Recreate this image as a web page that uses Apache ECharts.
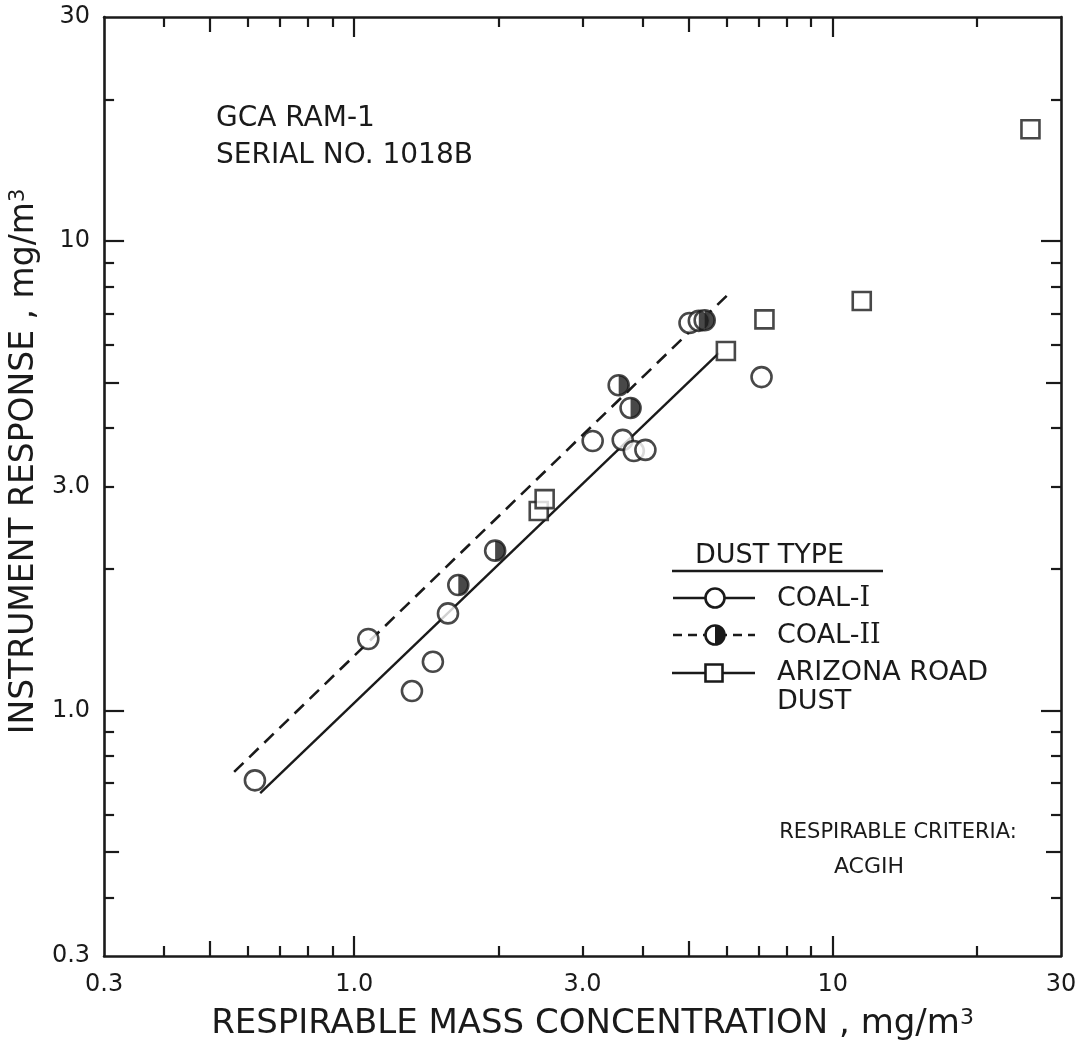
<!DOCTYPE html>
<html lang="en">
<head>
<meta charset="UTF-8">
<title>GCA RAM-1 instrument response</title>
<script src="https://cdn.jsdelivr.net/npm/echarts@6.0.0/dist/echarts.min.js"></script>
<style>
  html, body { margin: 0; padding: 0; background: #ffffff; }
  #chart { width: 1083px; height: 1048px; }
</style>
</head>
<body>
<div id="chart"></div>
<script>
  // values, mg/m3
  const coal1X = [0.62, 1.07, 1.32, 1.46, 1.57, 3.15, 3.64, 3.84, 4.06, 5.02, 7.1];
  const coal1Y = [0.71, 1.42, 1.10, 1.27, 1.61, 3.75, 3.77, 3.57, 3.59, 6.69, 5.13];
  const coal2X = [1.65, 1.97, 3.57, 3.78, 5.25, 5.40];
  const coal2Y = [1.85, 2.19, 4.93, 4.41, 6.76, 6.78];
  const dustX = [2.43, 2.50, 5.98, 7.2, 11.5, 25.9];
  const dustY = [2.66, 2.82, 5.83, 6.81, 7.45, 17.3];
  // fitted lines (end points)
  const coal1FitX = [0.636, 5.78];
  const coal1FitY = [0.667, 5.77];
  const coal2FitX = [0.561, 6.09];
  const coal2FitY = [0.740, 7.75];

  const tickLabelValues = [0.3, 1, 3, 10, 30];
  const tickLabelTexts = ['0.3', '1.0', '3.0', '10', '30'];
  const minorTicks = [0.4, 0.6, 0.7, 0.8, 0.9, 2, 3, 4, 6, 7, 8, 9, 20];
  const midTicks = [0.5, 5];
  const majorTicks = [1, 10];

  const ink = '#1a1a1a';
  const font = 'DejaVu Sans';

  function pairs(xs, ys) {
    return xs.map((x, i) => [x, ys[i]]);
  }

  function tickText(v) {
    const i = tickLabelValues.findIndex(t => Math.abs(t - v) / t < 1e-6);
    return i >= 0 ? tickLabelTexts[i] : '';
  }

  function logAxis(pos, ticks, len, extra) {
    return Object.assign({
      type: 'log', logBase: 10, min: 0.3, max: 30, position: pos,
      axisLine: { show: false },
      axisTick: { show: true, inside: true, length: len, customValues: ticks, lineStyle: { color: ink, width: 2.2 } },
      axisLabel: { show: false },
      splitLine: { show: false }
    }, extra || {});
  }

  const frameLine = { show: true, onZero: false, lineStyle: { color: ink, width: 2.6 } };
  const tickLabel = {
    show: true, customValues: tickLabelValues, formatter: tickText,
    color: ink, fontFamily: font, fontSize: 24
  };
  const nameRich = {
    t: { fontFamily: font, fontSize: 34, color: ink },
    s: { fontFamily: font, fontSize: 22, color: ink, verticalAlign: 'top' }
  };
  const yNameRich = {
    t: { fontFamily: font, fontSize: 33, color: ink },
    s: { fontFamily: font, fontSize: 21, color: ink, verticalAlign: 'top' }
  };

  const xAxes = [
    logAxis('bottom', minorTicks, 10, {
      axisLine: frameLine,
      axisLabel: Object.assign({ margin: 17 }, tickLabel),
      name: '{t|RESPIRABLE MASS CONCENTRATION , mg/m}{s|3}',
      nameLocation: 'middle', nameGap: 51,
      nameTextStyle: { rich: nameRich, padding: [0, 0, 0, 20] }
    }),
    logAxis('bottom', midTicks, 15),
    logAxis('bottom', majorTicks, 20),
    logAxis('top', minorTicks, 10, { axisLine: frameLine }),
    logAxis('top', midTicks, 15),
    logAxis('top', majorTicks, 20)
  ];
  const yAxes = [
    logAxis('left', minorTicks, 10, {
      axisLine: frameLine,
      axisLabel: Object.assign({ margin: 14 }, tickLabel),
      name: '{t|INSTRUMENT RESPONSE , mg/m}{s|3}',
      nameLocation: 'middle', nameGap: 56,
      nameTextStyle: { rich: yNameRich, padding: [0, 0, 0, 50] }
    }),
    logAxis('left', midTicks, 15),
    logAxis('left', majorTicks, 20),
    logAxis('right', minorTicks, 10, { axisLine: frameLine }),
    logAxis('right', midTicks, 15),
    logAxis('right', majorTicks, 20)
  ];

  const openMarker = { color: '#ffffff', borderColor: ink, borderWidth: 2.6 };
  const textBase = { fontFamily: font, fill: ink, verticalAlign: 'middle' };
  const roman = { r: { fontFamily: 'DejaVu Serif', fontSize: 27, fill: ink } };

  const chart = echarts.init(document.getElementById('chart'));
  chart.setOption({
    backgroundColor: '#ffffff',
    animation: false,
    grid: { left: 104, right: 22, top: 17, bottom: 92 },
    xAxis: xAxes,
    yAxis: yAxes,
    series: [
      {
        name: 'COAL-I fit', type: 'line', data: pairs(coal1FitX, coal1FitY),
        showSymbol: false, z: 1, lineStyle: { color: ink, width: 2.4 }
      },
      {
        name: 'COAL-II fit', type: 'line', data: pairs(coal2FitX, coal2FitY),
        showSymbol: false, z: 1, lineStyle: { color: ink, width: 2.6, type: [13, 8] }
      },
      {
        name: 'COAL-I', type: 'scatter', data: pairs(coal1X, coal1Y),
        symbol: 'circle', symbolSize: 20, z: 3, itemStyle: openMarker
      },
      {
        name: 'COAL-II', type: 'scatter', data: pairs(coal2X, coal2Y),
        symbol: 'circle', symbolSize: 20, z: 3, itemStyle: openMarker
      },
      {
        // right half of the COAL-II markers is filled
        name: 'COAL-II half', type: 'scatter', data: pairs(coal2X, coal2Y),
        symbol: 'path://M0,0 A10,10 0 0 1 0,20 Z', symbolSize: [10, 20], symbolOffset: [5, 0],
        z: 4, itemStyle: { color: ink }
      },
      {
        name: 'ARIZONA ROAD DUST', type: 'scatter', data: pairs(dustX, dustY),
        symbol: 'rect', symbolSize: 18, z: 3, itemStyle: openMarker
      }
    ],
    graphic: [
      { type: 'text', x: 216, y: 119, style: Object.assign({ text: 'GCA RAM-1', fontSize: 28 }, textBase) },
      { type: 'text', x: 216, y: 156, style: Object.assign({ text: 'SERIAL NO. 1018B', fontSize: 28 }, textBase) },
      { type: 'text', x: 898, y: 833, style: Object.assign({ text: 'RESPIRABLE CRITERIA:', fontSize: 21, align: 'center' }, textBase) },
      { type: 'text', x: 869, y: 867, style: Object.assign({ text: 'ACGIH', fontSize: 22, align: 'center' }, textBase) },
      // legend
      { type: 'text', x: 695, y: 556, style: Object.assign({ text: 'DUST TYPE', fontSize: 27 }, textBase) },
      { type: 'line', shape: { x1: 672, y1: 571, x2: 883, y2: 571 }, style: { stroke: ink, lineWidth: 2.4 } },
      { type: 'line', shape: { x1: 673, y1: 598, x2: 755, y2: 598 }, style: { stroke: ink, lineWidth: 2.4 } },
      { type: 'circle', shape: { cx: 715, cy: 598, r: 9.5 }, style: { fill: '#ffffff', stroke: ink, lineWidth: 2.6 } },
      { type: 'text', x: 777, y: 599, style: Object.assign({ text: 'COAL-{r|I}', fontSize: 27, rich: roman }, textBase) },
      { type: 'line', shape: { x1: 673, y1: 635, x2: 755, y2: 635 }, style: { stroke: ink, lineWidth: 2.6, lineDash: [9, 6] } },
      { type: 'circle', shape: { cx: 715, cy: 635, r: 9.5 }, style: { fill: '#ffffff', stroke: ink, lineWidth: 2.6 } },
      { type: 'sector', shape: { cx: 715, cy: 635, r0: 0, r: 9.5, startAngle: -Math.PI / 2, endAngle: Math.PI / 2 }, style: { fill: ink } },
      { type: 'text', x: 777, y: 636, style: Object.assign({ text: 'COAL-{r|II}', fontSize: 27, rich: roman }, textBase) },
      { type: 'line', shape: { x1: 672, y1: 673, x2: 755, y2: 673 }, style: { stroke: ink, lineWidth: 2.4 } },
      { type: 'rect', shape: { x: 705.5, y: 664.5, width: 17, height: 17 }, style: { fill: '#ffffff', stroke: ink, lineWidth: 2.6 } },
      { type: 'text', x: 777, y: 673, style: Object.assign({ text: 'ARIZONA ROAD', fontSize: 27 }, textBase) },
      { type: 'text', x: 777, y: 702, style: Object.assign({ text: 'DUST', fontSize: 27 }, textBase) }
    ]
  });
</script>
</body>
</html>
